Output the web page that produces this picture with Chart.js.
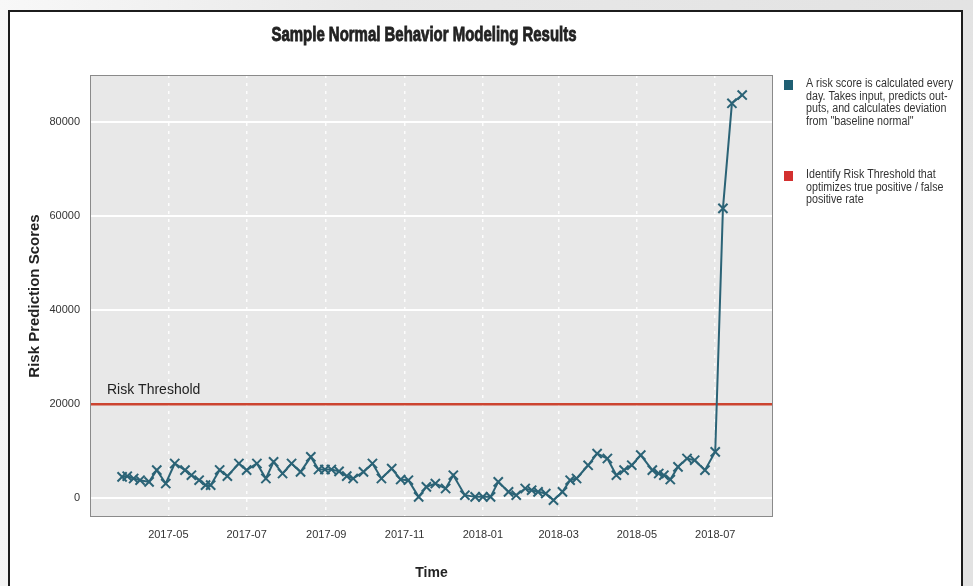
<!DOCTYPE html>
<html>
<head>
<meta charset="utf-8">
<title>Sample Normal Behavior Modeling Results</title>
<script src="https://cdn.jsdelivr.net/npm/chart.js@4.4.1/dist/chart.umd.min.js"></script>
<style>
    html, body { margin: 0; padding: 0; }
    body {
        width: 973px;
        height: 586px;
        overflow: hidden;
        background: linear-gradient(100deg, #f8f8f8 0%, #e8e8e8 35%, #e2e2e2 100%);
    }
</style>
</head>
<body>
<canvas id="chart" width="973" height="586"></canvas>
<script>
// Risk score samples
const dates = [
    '2017-03-26', '2017-03-30', '2017-04-04', '2017-04-09', '2017-04-16', '2017-04-22', '2017-04-29',
    '2017-05-06', '2017-05-14', '2017-05-19', '2017-05-25', '2017-05-30', '2017-06-03', '2017-06-10',
    '2017-06-16', '2017-06-25', '2017-07-01', '2017-07-09', '2017-07-16', '2017-07-22', '2017-07-29',
    '2017-08-05', '2017-08-12', '2017-08-20', '2017-08-26', '2017-08-31', '2017-09-05', '2017-09-11',
    '2017-09-17', '2017-09-22', '2017-09-30', '2017-10-07', '2017-10-14', '2017-10-22', '2017-10-29',
    '2017-11-04', '2017-11-12', '2017-11-18', '2017-11-25', '2017-12-03', '2017-12-09', '2017-12-18',
    '2017-12-26', '2018-01-01', '2018-01-07', '2018-01-13', '2018-01-21', '2018-01-27', '2018-02-03',
    '2018-02-08', '2018-02-13', '2018-02-19', '2018-02-25', '2018-03-04', '2018-03-10', '2018-03-15',
    '2018-03-24', '2018-03-31', '2018-04-08', '2018-04-15', '2018-04-21', '2018-04-27', '2018-05-04',
    '2018-05-13', '2018-05-18', '2018-05-22', '2018-05-27', '2018-06-02', '2018-06-09', '2018-06-15',
    '2018-06-23', '2018-07-01', '2018-07-07', '2018-07-14', '2018-07-22'
];
const scores = [
    4530, 4680, 4190, 3830, 3470, 5960, 3120,
    7380, 5960, 4890, 3830, 2770, 2770, 6000,
    4700, 7380, 5960, 7380, 4190, 7730, 5250,
    7380, 5600, 8790, 6100, 6100, 6100, 5700,
    4700, 4190, 5600, 7380, 4190, 6310, 3970,
    3830, 280, 2410, 3120, 2060, 4890, 640,
    280, 280, 280, 3470, 1350, 640, 2060,
    1700, 1350, 990, -430, 1350, 3830, 4190,
    7000, 9500, 8440, 4890, 5960, 7020, 9150,
    5960, 5250, 4890, 3970, 6660, 8440, 8080,
    5960, 9860, 61640, 83980, 85740
];
const threshold = 20000;

const xTickLabels = ['2017-05', '2017-07', '2017-09', '2017-11', '2018-01', '2018-03', '2018-05', '2018-07'];
const yTicks = [0, 20000, 40000, 60000, 80000];
const xRange = ['2017-03-01', '2018-08-15'];
const yRange = [-4000, 90000];

const legendItems = [
    { color: '#1f5f73', lines: ['A risk score is calculated every', 'day. Takes input, predicts out-', 'puts, and calculates deviation', 'from "baseline normal"'] },
    { color: '#d3302f', lines: ['Identify Risk Threshold that', 'optimizes true positive / false', 'positive rate'] }
];

const regular = "'Liberation Sans', 'DejaVu Sans', sans-serif";
const toMs = s => Date.parse(s);

// draw text squeezed horizontally, like the condensed face of the original
function condensedText(ctx, text, x, y, sx, stroke) {
    ctx.save();
    ctx.translate(x, y);
    ctx.scale(sx, 1);
    ctx.fillText(text, 0, 0);
    if (stroke) {
        ctx.lineWidth = stroke;
        ctx.strokeStyle = ctx.fillStyle;
        ctx.strokeText(text, 0, 0);
    }
    ctx.restore();
}

// Panel, plot background, title, legend notes, threshold label
const decorations = {
    id: 'decorations',
    beforeDraw(chart) {
        const { ctx, chartArea: a } = chart;
        ctx.save();
        ctx.fillStyle = '#ffffff';
        ctx.fillRect(9, 11, 953, 600);
        ctx.strokeStyle = '#1c1c1c';
        ctx.lineWidth = 2;
        ctx.strokeRect(9, 11, 953, 600);
        ctx.fillStyle = '#e8e8e8';
        ctx.fillRect(a.left, a.top, a.right - a.left, a.bottom - a.top);
        ctx.restore();
    },
    afterDraw(chart) {
        const { ctx, chartArea: a, scales } = chart;
        ctx.save();
        // plot frame
        ctx.strokeStyle = '#8a8a8a';
        ctx.lineWidth = 1;
        ctx.strokeRect(a.left + 0.5, a.top + 0.5, a.right - a.left - 1, a.bottom - a.top - 1);

        // title, squeezed to the original width
        ctx.fillStyle = '#222';
        ctx.font = "bold 21px " + regular;
        ctx.textAlign = 'center';
        ctx.textBaseline = 'middle';
        const title = 'Sample Normal Behavior Modeling Results';
        condensedText(ctx, title, 424, 35, 305 / ctx.measureText(title).width, 0.9);

        // threshold label
        ctx.font = "14px " + regular;
        ctx.textAlign = 'left';
        ctx.fillText('Risk Threshold', 107, scales.y.getPixelForValue(threshold) - 14);

        // notes on the right
        ctx.font = "12px " + regular;
        const sx = 147 / ctx.measureText(legendItems[0].lines[0]).width;
        let y = 84;
        legendItems.forEach(item => {
            ctx.fillStyle = item.color;
            ctx.fillRect(784, y - 4, 9, 10);
            ctx.fillStyle = '#333';
            item.lines.forEach((line, i) => {
                condensedText(ctx, line, 806, y + i * 12.5, sx);
            });
            y += 91;
        });
        ctx.restore();
    }
};

new Chart(document.getElementById('chart'), {
    type: 'line',
    data: {
        datasets: [
            {
                label: 'Risk score',
                data: dates.map((d, i) => ({ x: toMs(d), y: scores[i] })),
                borderColor: '#2b6376',
                backgroundColor: '#2b6376',
                borderWidth: 2,
                pointStyle: 'crossRot',
                pointRadius: 6.5,
                pointBorderWidth: 2,
                tension: 0
            },
            {
                label: 'Risk Threshold',
                data: [{ x: toMs(xRange[0]), y: threshold }, { x: toMs(xRange[1]), y: threshold }],
                borderColor: '#cc4430',
                borderWidth: 2.5,
                pointRadius: 0
            }
        ]
    },
    options: {
        responsive: false,
        animation: false,
        layout: { padding: { left: 0, top: 75, right: 200, bottom: 0 } },
        plugins: {
            legend: { display: false },
            tooltip: { enabled: false }
        },
        scales: {
            x: {
                type: 'linear',
                min: toMs(xRange[0]),
                max: toMs(xRange[1]),
                afterBuildTicks: s => { s.ticks = xTickLabels.map(l => ({ value: toMs(l + '-01') })); },
                afterFit: s => { s.height = 69; },
                ticks: {
                    callback: v => new Date(v).toISOString().slice(0, 7),
                    autoSkip: false,
                    maxRotation: 0,
                    padding: 11,
                    color: '#333',
                    font: { family: regular, size: 11 }
                },
                grid: { color: 'rgba(255, 255, 255, 0.9)', lineWidth: 1.5, drawTicks: false },
                border: { display: false, dash: [3, 5] },
                title: {
                    display: true,
                    text: 'Time',
                    color: '#222',
                    font: { family: regular, size: 14, weight: 'bold' },
                    padding: { top: 0, bottom: 4 }
                }
            },
            y: {
                min: yRange[0],
                max: yRange[1],
                afterBuildTicks: s => { s.ticks = yTicks.map(v => ({ value: v })); },
                afterFit: s => { s.width = 90; },
                ticks: {
                    callback: v => String(v),
                    padding: 10,
                    color: '#333',
                    font: { family: regular, size: 11 }
                },
                grid: { color: '#ffffff', lineWidth: 2, drawTicks: false },
                border: { display: false },
                title: {
                    display: true,
                    text: 'Risk Prediction Scores',
                    color: '#222',
                    font: { family: regular, size: 15, weight: 'bold' },
                    padding: { top: 26, bottom: 0 }
                }
            }
        }
    },
    plugins: [decorations]
});
</script>
</body>
</html>
